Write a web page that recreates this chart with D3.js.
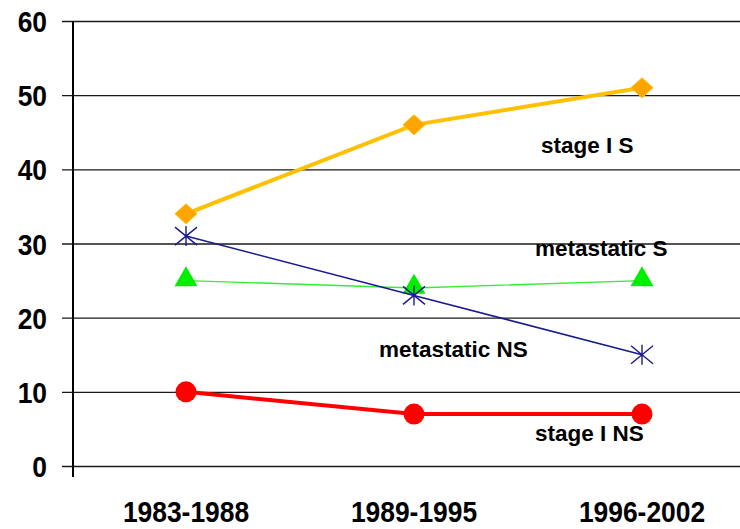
<!DOCTYPE html>
<html>
<head>
<meta charset="utf-8">
<script src="https://cdn.jsdelivr.net/npm/d3@7"></script>
<style>
  html, body { margin: 0; padding: 0; background: #fff; }
  svg { display: block; }
  text { font-family: "Liberation Sans", Arial, sans-serif; font-weight: bold; fill: #000; }
</style>
</head>
<body>
<svg id="chart" width="740" height="529"></svg>
<script>
// Periods on the horizontal axis
const periods = ["1983-1988", "1989-1995", "1996-2002"];
// Value axis ticks
const yTicks = [0, 10, 20, 30, 40, 50, 60];

// Series values, one per period
const stageIS = [34, 46, 51];
const metastaticNS = [31, 23, 15];
const metastaticS = [25, 24, 25];
const stageINS = [10, 7, 7];

const svg = d3.select("#chart");
const W = 740;
const plotLeft = 72, plotTop = 21, plotBottom = 466;

const x = d3.scaleBand().domain(periods).range([plotLeft, 756]).padding(0);
const y = d3.scaleLinear().domain([0, 60]).range([plotBottom, plotTop]);
const cx = d => x(d) + x.bandwidth() / 2;

// Horizontal gridlines with left-pointing ticks
const yAxis = d3.axisLeft(y).tickValues(yTicks).tickSize(-(W - plotLeft)).tickPadding(0);
const gy = svg.append("g").attr("transform", `translate(${plotLeft},0)`).call(yAxis);
gy.select(".domain").remove();
gy.selectAll(".tick line").attr("x1", -10).attr("stroke", "#1a1a1a").attr("stroke-width", 1.3);
gy.selectAll(".tick text")
  .attr("x", 0).attr("dy", "0.35em")
  .attr("transform", "translate(-25,0) scale(0.88,1)")
  .style("font-size", "30px")
  .style("font-family", "'Liberation Sans', Arial, sans-serif")
  .style("font-weight", "bold");

// Vertical value axis line
svg.append("line")
  .attr("x1", plotLeft + 1).attr("x2", plotLeft + 1)
  .attr("y1", plotTop).attr("y2", plotBottom + 11)
  .attr("stroke", "#000").attr("stroke-width", 2);

// Period labels
const xAxis = d3.axisBottom(x).tickSize(0).tickPadding(0);
const gx = svg.append("g").attr("transform", `translate(0,${plotBottom})`).call(xAxis);
gx.select(".domain").remove();
gx.selectAll(".tick text")
  .attr("y", 0).attr("dy", 0)
  .attr("transform", "translate(0,56) scale(0.88,1)")
  .style("font-size", "30px")
  .style("font-family", "'Liberation Sans', Arial, sans-serif")
  .style("font-weight", "bold");

const line = d3.line().x((d, i) => cx(periods[i])).y(d => y(d));

// stage I NS: thick red line with circles
svg.append("path").datum(stageINS).attr("d", line)
  .attr("fill", "none").attr("stroke", "#ff0000").attr("stroke-width", 4);
svg.selectAll(".pt-ins").data(stageINS).join("circle")
  .attr("cx", (d, i) => cx(periods[i])).attr("cy", d => y(d))
  .attr("r", 10.5).attr("fill", "#ff0000");

// metastatic S: thin green line with triangles
svg.append("path").datum(metastaticS).attr("d", line)
  .attr("fill", "none").attr("stroke", "#33ee33").attr("stroke-width", 1.4);
const tri = d3.symbol().type(d3.symbolTriangle).size(230);
svg.selectAll(".pt-ms").data(metastaticS).join("path")
  .attr("transform", (d, i) => `translate(${cx(periods[i])},${y(d) - 1})`)
  .attr("d", tri).attr("fill", "#00ee00");

// metastatic NS: thin navy line with asterisks
svg.append("path").datum(metastaticNS).attr("d", line)
  .attr("fill", "none").attr("stroke", "#1a1a8c").attr("stroke-width", 1.5);
const star = svg.selectAll(".pt-mns").data(metastaticNS).join("g")
  .attr("transform", (d, i) => `translate(${cx(periods[i])},${y(d)})`);
star.append("path")
  .attr("d", "M0,-10V10M-11,-9L11,9M-11,9L11,-9")
  .attr("stroke", "#1a1a8c").attr("stroke-width", 1.4).attr("fill", "none");

// stage I S: thick gold line with diamonds
svg.append("path").datum(stageIS).attr("d", line)
  .attr("fill", "none").attr("stroke", "#ffc000").attr("stroke-width", 4);
svg.selectAll(".pt-is").data(stageIS).join("path")
  .attr("transform", (d, i) => `translate(${cx(periods[i])},${y(d)})`)
  .attr("d", "M0,-10L11,0L0,10L-11,0Z")
  .attr("fill", "#ffa500").attr("stroke", "#ffc000").attr("stroke-width", 1);

// Series labels
const labels = [
  { text: "stage I S", x: 541, y: 153 },
  { text: "metastatic S", x: 535, y: 256 },
  { text: "metastatic NS", x: 379, y: 357 },
  { text: "stage I NS", x: 535, y: 441 }
];
svg.selectAll(".series-label").data(labels).join("text")
  .attr("class", "series-label")
  .attr("x", d => d.x).attr("y", d => d.y)
  .style("font-size", "22.5px")
  .text(d => d.text);
</script>
</body>
</html>
